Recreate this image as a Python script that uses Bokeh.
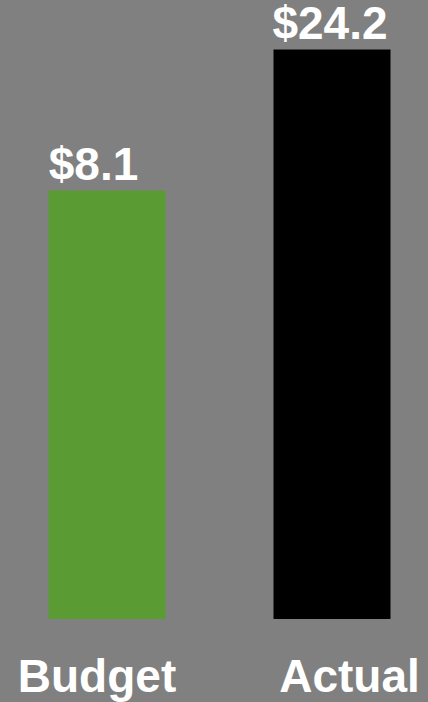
from bokeh.plotting import figure
from bokeh.models import Range1d
from bokeh.core.properties import value
from bokeh.embed import file_html
from bokeh.resources import INLINE

# ---- data ----
categories = ["Budget", "Actual"]
amounts = [8.1, 24.2]
value_labels = ["$8.1", "$24.2"]
bar_colors = ["#5A9B33", "#000000"]

# ---- layout / style ----
W, H = 428, 702
BG = "#808080"
PX_PER_CAT = 225.0          # horizontal pixels per category step
BAR_PX = 117.0              # bar width in px
FIRST_CENTER_PX = 106.5     # first bar centre in px
BASE = -40.83               # value at which bars are drawn from
Y_START, Y_END = -50.36, 29.79
FONT = value("Liberation Sans")
FS = "46px"
value_x_off = [-13.5, -2.0]
cat_x_off = [-10.0, 17.5]

x0 = -FIRST_CENTER_PX / PX_PER_CAT
p = figure(width=W, height=H, output_backend="svg", toolbar_location=None,
           x_range=Range1d(x0, x0 + W / PX_PER_CAT),
           y_range=Range1d(Y_START, Y_END),
           x_axis_location=None, y_axis_location=None,
           min_border=0, background_fill_color=BG, border_fill_color=BG,
           outline_line_color=None)
p.grid.visible = False

xs = list(range(len(categories)))
p.vbar(x=xs, top=amounts, bottom=[BASE] * len(xs), width=BAR_PX / PX_PER_CAT,
       fill_color=bar_colors, line_color=None)

for i in xs:
    p.text(x=[xs[i]], y=[amounts[i]], text=[value_labels[i]],
           x_offset=value_x_off[i], y_offset=-26,
           text_font=FONT, text_font_size=FS, text_font_style="bold",
           text_color="white", text_align="center", text_baseline="alphabetic")
    p.text(x=[xs[i]], y=[BASE], text=[categories[i]],
           x_offset=cat_x_off[i], y_offset=57,
           text_font=FONT, text_font_size=FS, text_font_style="bold",
           text_color="white", text_align="center", text_baseline="alphabetic")

html = file_html(p, INLINE)
html = html.replace("<head>", "<head><style>body{background:#808080;}</style>", 1)
open("out.html", "w").write(html)
